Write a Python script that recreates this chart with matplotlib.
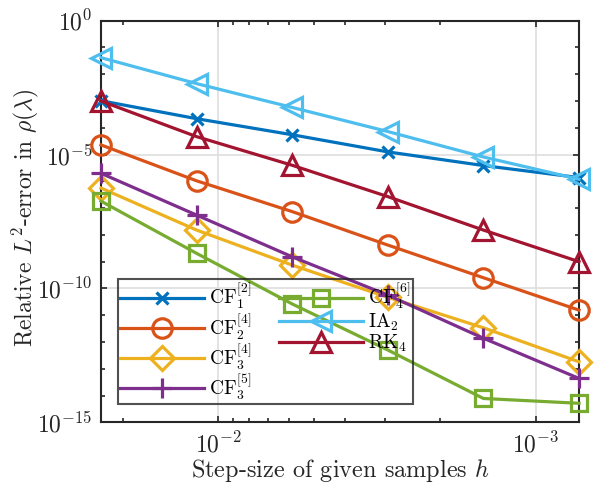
import numpy as np
import matplotlib
matplotlib.use("Agg")
import matplotlib.pyplot as plt
from matplotlib.ticker import NullFormatter, FixedLocator

plt.rcParams['font.family'] = ['cmr10', 'DejaVu Serif']
plt.rcParams['mathtext.fontset'] = 'cm'
plt.rcParams['axes.formatter.use_mathtext'] = True

# step sizes (halving)
h = [3/128, 3/256, 3/512, 3/1024, 3/2048, 3/4096]

# log10 of relative errors
err_CF1_2 = [-2.99, -3.66, -4.26, -4.90, -5.41, -5.86]
err_CF2_4 = [-4.64, -5.98, -7.13, -8.38, -9.60, -10.81]
err_CF3_4 = [-6.25, -7.82, -9.13, -10.33, -11.47, -12.74]
err_CF3_5 = [-5.70, -7.26, -8.82, -10.25, -11.86, -13.36]
err_CF4_6 = [-6.74, -8.69, -10.58, -12.30, -14.11, -14.29]
err_IA2 = [-1.38, -2.35, -3.24, -4.14, -5.09, -5.92]
err_RK4 = [-3.00, -4.33, -5.40, -6.57, -7.82, -9.00]

labels = [r'$\mathrm{CF}_1^{[2]}$', r'$\mathrm{CF}_2^{[4]}$', r'$\mathrm{CF}_3^{[4]}$',
          r'$\mathrm{CF}_3^{[5]}$', r'$\mathrm{CF}_4^{[6]}$', r'$\mathrm{IA}_2$', r'$\mathrm{RK}_4$']
series = [err_CF1_2, err_CF2_4, err_CF3_4, err_CF3_5, err_CF4_6, err_IA2, err_RK4]
colors = ['#0072BD', '#D95319', '#EDB120', '#7E2F8E', '#77AC30', '#4DBEEE', '#A2142F']
markers = ['x', 'o', 'D', '+', 's', '<', '^']
msizes = [9, 14, 12, 14, 11, 15, 15]

fig = plt.figure(figsize=(5.94, 4.86), dpi=100)
ax = fig.add_axes([101/594, 1 - 422.3/486, 478/594, 401.6/486])

for s, lab, c, m, ms in zip(series, labels, colors, markers, msizes):
    ax.plot(h, [10**v for v in s], color=c, lw=2.3, marker=m, ms=ms,
            mfc='none', mec=c, mew=2.3, label=lab, clip_on=False, zorder=3)

ax.set_xscale('log')
ax.set_yscale('log')
ax.set_xlim(h[0], h[-1])
ax.set_ylim(1e-15, 1e0)

ax.yaxis.set_major_locator(FixedLocator([1e0, 1e-5, 1e-10, 1e-15]))
ax.yaxis.set_minor_locator(FixedLocator([10.0**(-k) for k in range(16)]))
ax.yaxis.set_minor_formatter(NullFormatter())
ax.xaxis.set_major_locator(FixedLocator([1e-2, 1e-3]))
mx = [k * 10.0**e for e in (-3, -2) for k in range(2, 10)]
ax.xaxis.set_minor_locator(FixedLocator(mx))
ax.xaxis.set_minor_formatter(NullFormatter())

ax.grid(True, which='major', color='#dedede', lw=1.2)
ax.set_axisbelow(True)
for sp in ax.spines.values():
    sp.set_color('#262626')
    sp.set_linewidth(1.5)
ax.tick_params(which='both', direction='in', top=True, right=True, colors='#262626',
               labelsize=17, width=1.2)
ax.tick_params(which='major', length=4)
ax.tick_params(which='minor', length=3)
ax.tick_params(axis='x', pad=7)
ax.tick_params(axis='y', pad=6)

ax.set_xlabel(r'Step-size of given samples $h$', fontsize=17.5, color='#262626',
              va='baseline')
ax.xaxis.set_label_coords(0.5, (422.3 - 477) / 401.6)
ax.set_ylabel(r'Relative $L^2$-error in $\rho(\lambda)$', fontsize=17, color='#262626',
              va='center')
ax.yaxis.set_label_coords((25 - 101) / 478, (422.3 - 218) / 401.6)

leg = ax.legend(ncol=2, loc='lower left', bbox_to_anchor=(17/478, 18.3/401.6),
                fontsize=14, frameon=True, fancybox=False, facecolor='none',
                edgecolor='#262626', handlelength=4.3, columnspacing=1.4,
                handletextpad=0.3, labelspacing=0.0, borderpad=0.1,
                borderaxespad=0)
leg.get_frame().set_linewidth(1.5)

fig.savefig('out.png', dpi=100)
